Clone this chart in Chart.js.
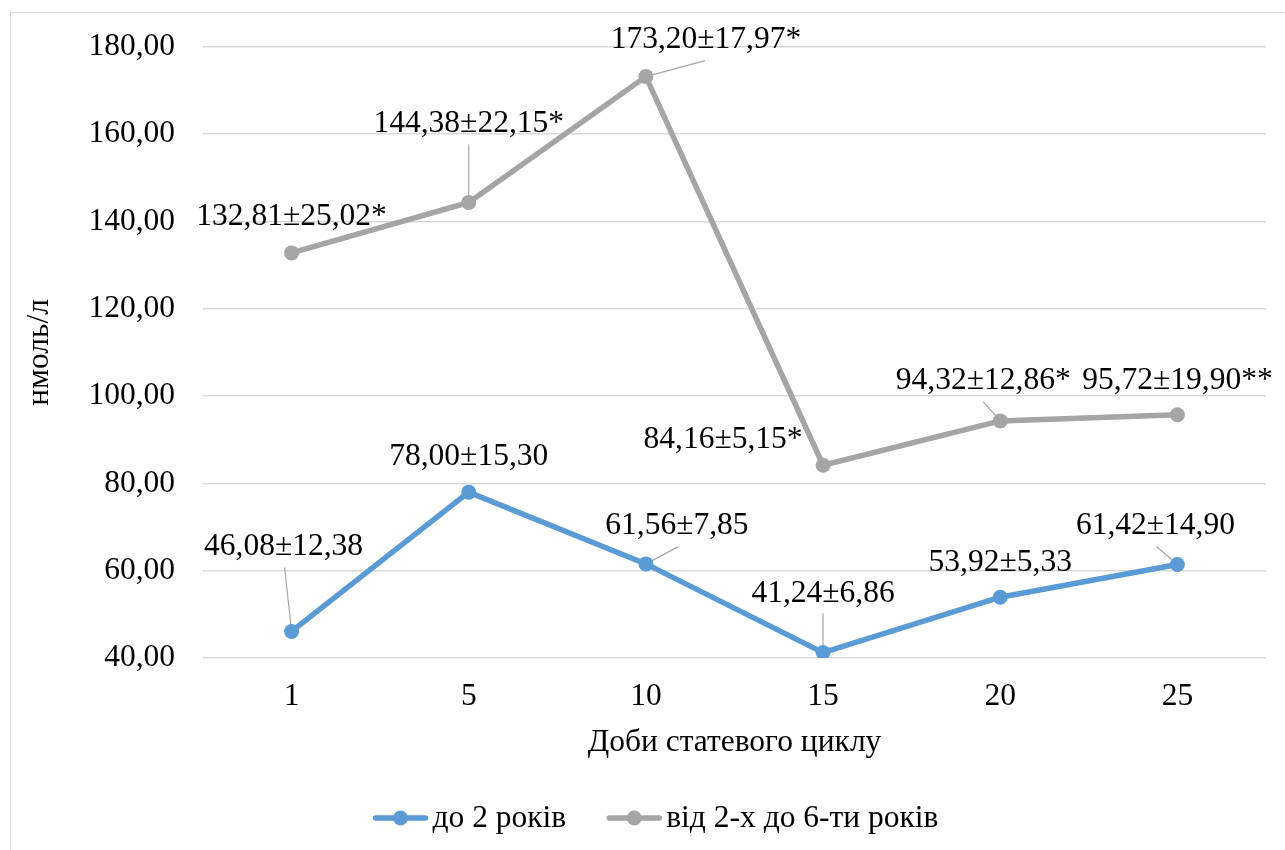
<!DOCTYPE html>
<html>
<head>
<meta charset="utf-8">
<script src="https://cdn.jsdelivr.net/npm/chart.js@4.4.1/dist/chart.umd.min.js"></script>
<style>
  html, body { margin: 0; padding: 0; background: #fff; }
  #wrap { position: relative; width: 1285px; height: 850px; overflow: hidden; }
  #frame { position: absolute; left: 10px; top: 12px; width: 1292px; height: 900px; border: 1px solid #d9d9d9; box-sizing: border-box; }
  canvas { position: absolute; left: 0; top: 0; }
</style>
</head>
<body>
<div id="wrap">
  <div id="frame"></div>
  <canvas id="c" width="1285" height="850"></canvas>
</div>
<script>
// ---- data ----
const categories = ['1', '5', '10', '15', '20', '25'];
const seriesNames = ['до 2 років', 'від 2-х до 6-ти років'];
const under2Mean = [46.08, 78.00, 61.56, 41.24, 53.92, 61.42];
const under2SD   = [12.38, 15.30, 7.85, 6.86, 5.33, 14.90];
const under2Sig  = ['', '', '', '', '', ''];
const from2to6Mean = [132.81, 144.38, 173.20, 84.16, 94.32, 95.72];
const from2to6SD   = [25.02, 22.15, 17.97, 5.15, 12.86, 19.90];
const from2to6Sig  = ['*', '*', '*', '*', '*', '**'];
const yTicks = [40, 60, 80, 100, 120, 140, 160, 180];
const xTitle = 'Доби статевого циклу';
const yTitle = 'нмоль/л';

// ---- style (label placement relative to the point, leader start offsets) ----
const labelOffsets = [
  [[-8, -85], [0, -35], [31, -38], [0, -59], [0, -35], [-22, -39]],
  [[0, -36], [0, -79], [60, -37], [-100, -26], [-17, -40], [0, -34]]
];
const leaderStarts = [
  [[-7, -64], null, [32, -17], [0, -39], null, [-21, -18]],
  [null, [0, -58], [59, -16], null, [-17, -19], null]
];
const colors = ['#5b9bd5', '#a5a5a5'];
const FONT = '"Liberation Serif", "Times New Roman", serif';
const FS = 31.5;

const fmt = v => v.toFixed(2).replace('.', ',');
const sds = [under2SD, from2to6SD];
const sigs = [under2Sig, from2to6Sig];

const labelPlugin = {
  id: 'labels',
  beforeDatasetsDraw(chart) {
    const ctx = chart.ctx;
    ctx.save();
    ctx.strokeStyle = '#a6a6a6';
    ctx.lineWidth = 1.2;
    chart.data.datasets.forEach((ds, di) => {
      const meta = chart.getDatasetMeta(di);
      meta.data.forEach((pt, i) => {
        const ls = leaderStarts[di][i];
        if (!ls) return;
        ctx.beginPath();
        ctx.moveTo(pt.x + ls[0], pt.y + ls[1]);
        ctx.lineTo(pt.x, pt.y);
        ctx.stroke();
      });
    });
    ctx.restore();
  },
  afterDatasetsDraw(chart) {
    const ctx = chart.ctx;
    ctx.save();
    ctx.font = FS + 'px ' + FONT;
    ctx.fillStyle = '#000';
    ctx.textAlign = 'center';
    ctx.textBaseline = 'middle';
    chart.data.datasets.forEach((ds, di) => {
      const meta = chart.getDatasetMeta(di);
      meta.data.forEach((pt, i) => {
        const txt = fmt(ds.data[i]) + '±' + fmt(sds[di][i]) + sigs[di][i];
        const o = labelOffsets[di][i];
        ctx.fillText(txt, pt.x + o[0], pt.y + o[1]);
      });
    });
    ctx.restore();
  },
  afterDraw(chart) {
    // legend
    const ctx = chart.ctx;
    ctx.save();
    ctx.font = FS + 'px ' + FONT;
    ctx.textBaseline = 'middle';
    ctx.textAlign = 'left';
    const lineW = 54, gapText = 5, gapItem = 41;
    const widths = seriesNames.map(n => lineW + gapText + ctx.measureText(n).width);
    const total = widths[0] + widths[1] + gapItem;
    let x = 656 - total / 2;
    const y = 818;
    chart.data.datasets.forEach((ds, di) => {
      ctx.strokeStyle = colors[di];
      ctx.lineWidth = 5.5;
      ctx.lineCap = 'round';
      ctx.beginPath();
      ctx.moveTo(x + 2, y);
      ctx.lineTo(x + lineW - 2, y);
      ctx.stroke();
      ctx.fillStyle = colors[di];
      ctx.beginPath();
      ctx.arc(x + lineW / 2, y, 7.5, 0, Math.PI * 2);
      ctx.fill();
      ctx.fillStyle = '#000';
      ctx.fillText(ds.label, x + lineW + gapText, y + 1);
      x += widths[di] + gapItem;
    });
    ctx.restore();
  }
};

new Chart(document.getElementById('c'), {
  type: 'line',
  data: {
    labels: categories,
    datasets: [
      { label: seriesNames[0], data: under2Mean, borderColor: colors[0], backgroundColor: colors[0],
        borderWidth: 5.5, pointRadius: 7.5, pointHoverRadius: 7.5, pointBorderWidth: 0, tension: 0 },
      { label: seriesNames[1], data: from2to6Mean, borderColor: colors[1], backgroundColor: colors[1],
        borderWidth: 5.5, pointRadius: 7.5, pointHoverRadius: 7.5, pointBorderWidth: 0, tension: 0 }
    ]
  },
  options: {
    responsive: false,
    animation: false,
    events: [],
    layout: { padding: { left: 15, top: 41.5, right: 19, bottom: 88.4 } },
    plugins: { legend: { display: false }, tooltip: { enabled: false } },
    scales: {
      x: {
        offset: true,
        grid: { display: false, drawTicks: false },
        border: { display: false },
        ticks: { color: '#000', padding: 20, font: { family: FONT, size: FS } },
        title: { display: true, text: xTitle, color: '#000', padding: { top: 0, bottom: 0 }, font: { family: FONT, size: FS } },
        afterFit(s) { s.height = 103.6; }
      },
      y: {
        min: yTicks[0], max: yTicks[yTicks.length - 1],
        afterBuildTicks(s) { s.ticks = yTicks.map(v => ({ value: v })); },
        grid: { color: '#d9d9d9', lineWidth: 1.5, drawTicks: false },
        border: { display: false },
        ticks: { color: '#000', padding: 28, font: { family: FONT, size: FS }, callback: v => fmt(v) },
        title: { display: true, text: yTitle, color: '#000', padding: { top: 6, bottom: 0 }, font: { family: FONT, size: FS } },
        afterFit(s) { s.width = 188; }
      }
    }
  },
  plugins: [labelPlugin]
});
</script>
</body>
</html>
